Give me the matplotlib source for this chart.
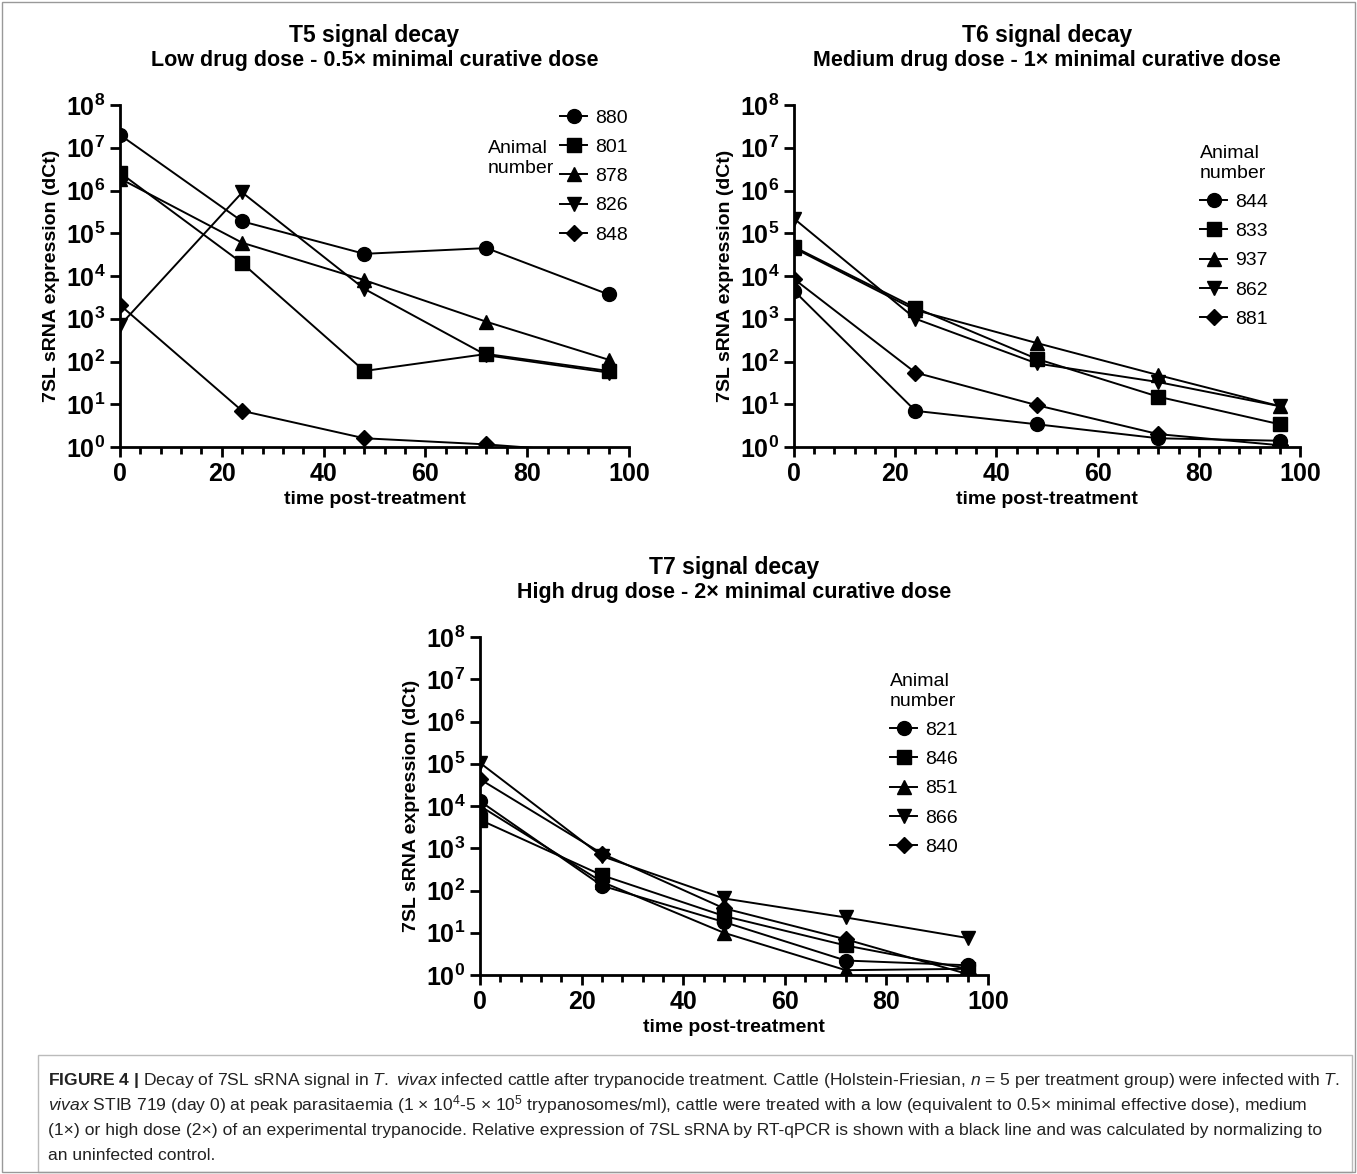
import numpy as np
import matplotlib.pyplot as plt
from matplotlib.patches import Rectangle

plt.rcParams['font.family'] = ['Liberation Sans', 'DejaVu Sans']
plt.rcParams['mathtext.fontset'] = 'custom'
plt.rcParams['mathtext.rm'] = 'Liberation Sans'
plt.rcParams['mathtext.it'] = 'Liberation Sans:italic'
plt.rcParams['mathtext.bf'] = 'Liberation Sans:bold'

hours = [0, 24, 48, 72, 96]
markers = ['o', 's', '^', 'v', 'D']

t5_ids = ['880', '801', '878', '826', '848']
t5_vals = [
    [2e7, 1.9e5, 3.3e4, 4.5e4, 3.7e3],
    [2.6e6, 2e4, 60, 150, 60],
    [1.9e6, 6e4, 8e3, 850, 110],
    [700, 9e5, 5e3, 140, 55],
    [2100, 7, 1.6, 1.15, 0.7],
]
t6_ids = ['844', '833', '937', '862', '881']
t6_vals = [
    [4500, 7, 3.4, 1.6, 1.4],
    [4.8e4, 1800, 115, 15, 3.4],
    [4.5e4, 1600, 270, 48, 9],
    [2.2e5, 1000, 90, 33, 9],
    [8500, 55, 9.5, 2, 1.1],
]
t7_ids = ['821', '846', '851', '866', '840']
t7_vals = [
    [1.3e4, 130, 18, 2.2, 1.7],
    [4700, 230, 25, 5, 1.4],
    [1.0e4, 160, 10, 1.3, 1.4],
    [1.05e5, 650, 65, 23, 7.5],
    [4.3e4, 750, 38, 7, 1.05],
]

fig = plt.figure(figsize=(13.57, 11.74), dpi=100)
W, H = 1357, 1174


def panel(rect, ids, vals, title, sub, leg_xy, title_left):
    ax = fig.add_axes(rect)
    for name, v, m in zip(ids, vals, markers):
        ms = 8 if m == 'D' else 10
        # points below the axis floor are not marked
        shown = [i for i, y in enumerate(v) if y >= 1]
        ax.plot(hours, v, color='black', lw=1.4, marker=m, ms=ms, label=name,
                markevery=shown)
    ax.set_yscale('log')
    ax.set_ylim(1, 1e8)
    ax.set_xlim(0, 100)
    ax.set_yticks([10.0 ** k for k in range(9)])
    ax.set_yticklabels([r'$\mathbf{10^{%d}}$' % k for k in range(9)])
    ax.yaxis.set_minor_locator(plt.NullLocator())
    ax.set_xticks(range(0, 101, 20))
    ax.set_xticks(range(0, 101, 4), minor=True)
    for s in ['top', 'right']:
        ax.spines[s].set_visible(False)
    for s in ['left', 'bottom']:
        ax.spines[s].set_linewidth(2)
    ax.tick_params(which='major', length=7, width=2, labelsize=18)
    ax.tick_params(which='minor', length=5, width=2)
    for lab in ax.get_xticklabels():
        lab.set_fontweight('bold')
    ax.set_ylabel('7SL sRNA expression (dCt)', fontsize=14, fontweight='bold', labelpad=4)
    ax.set_xlabel('time post-treatment', fontsize=14, fontweight='bold', labelpad=4)
    cx = rect[0] + rect[2] / 2
    top = rect[1] + rect[3]
    fig.text(cx, top + 0.054, title, ha='center', fontsize=16.5, fontweight='bold')
    fig.text(cx, top + 0.033, sub, ha='center', fontsize=15.5, fontweight='bold')
    ax.legend(loc='upper left', bbox_to_anchor=(leg_xy[0] / W, 1 - leg_xy[1] / H),
              bbox_transform=fig.transFigure, frameon=False, fontsize=14,
              handlelength=1.4, handletextpad=0.4, labelspacing=0.6,
              borderaxespad=0, borderpad=0,
              title=None if title_left else 'Animal\nnumber',
              title_fontsize=14, alignment='left')
    if title_left:
        fig.text(488 / W, 1 - 140 / H, 'Animal\nnumber', fontsize=14, va='top')
    return ax


panel([120 / W, 1 - 447 / H, 509 / W, 342 / H], t5_ids, t5_vals,
      'T5 signal decay', 'Low drug dose - 0.5× minimal curative dose', (560, 109), True)
panel([794 / W, 1 - 447 / H, 506 / W, 342 / H], t6_ids, t6_vals,
      'T6 signal decay', 'Medium drug dose - 1× minimal curative dose', (1200, 145), False)
panel([480 / W, 1 - 975 / H, 508 / W, 338 / H], t7_ids, t7_vals,
      'T7 signal decay', 'High drug dose - 2× minimal curative dose', (890, 673), False)

# caption box and outer frame
fig.patches.append(Rectangle((38 / W, 1 - 1172 / H), 1314 / W, 117 / H,
                             transform=fig.transFigure, fill=False,
                             edgecolor='#bbbbbb', lw=1))
fig.patches.append(Rectangle((2 / W, 2 / H), 1 - 4 / W, 1 - 4 / H,
                             transform=fig.transFigure, fill=False,
                             edgecolor='#999999', lw=1))
cap = [
    r'$\mathbf{FIGURE\ 4\ |}$ Decay of 7SL sRNA signal in $\mathit{T.\ vivax}$ infected cattle after trypanocide treatment. Cattle (Holstein-Friesian, $\mathit{n}$ = 5 per treatment group) were infected with $\mathit{T.}$',
    r'$\mathit{vivax}$ STIB 719 (day 0) at peak parasitaemia (1 × 10$^{4}$-5 × 10$^{5}$ trypanosomes/ml), cattle were treated with a low (equivalent to 0.5× minimal effective dose), medium',
    r'(1×) or high dose (2×) of an experimental trypanocide. Relative expression of 7SL sRNA by RT-qPCR is shown with a black line and was calculated by normalizing to',
    'an uninfected control.',
]
for i, line in enumerate(cap):
    fig.text(48 / W, 1 - (1080 + i * 25) / H, line, fontsize=12.6, va='center', color='#222222')

fig.savefig('out.png', dpi=100)
